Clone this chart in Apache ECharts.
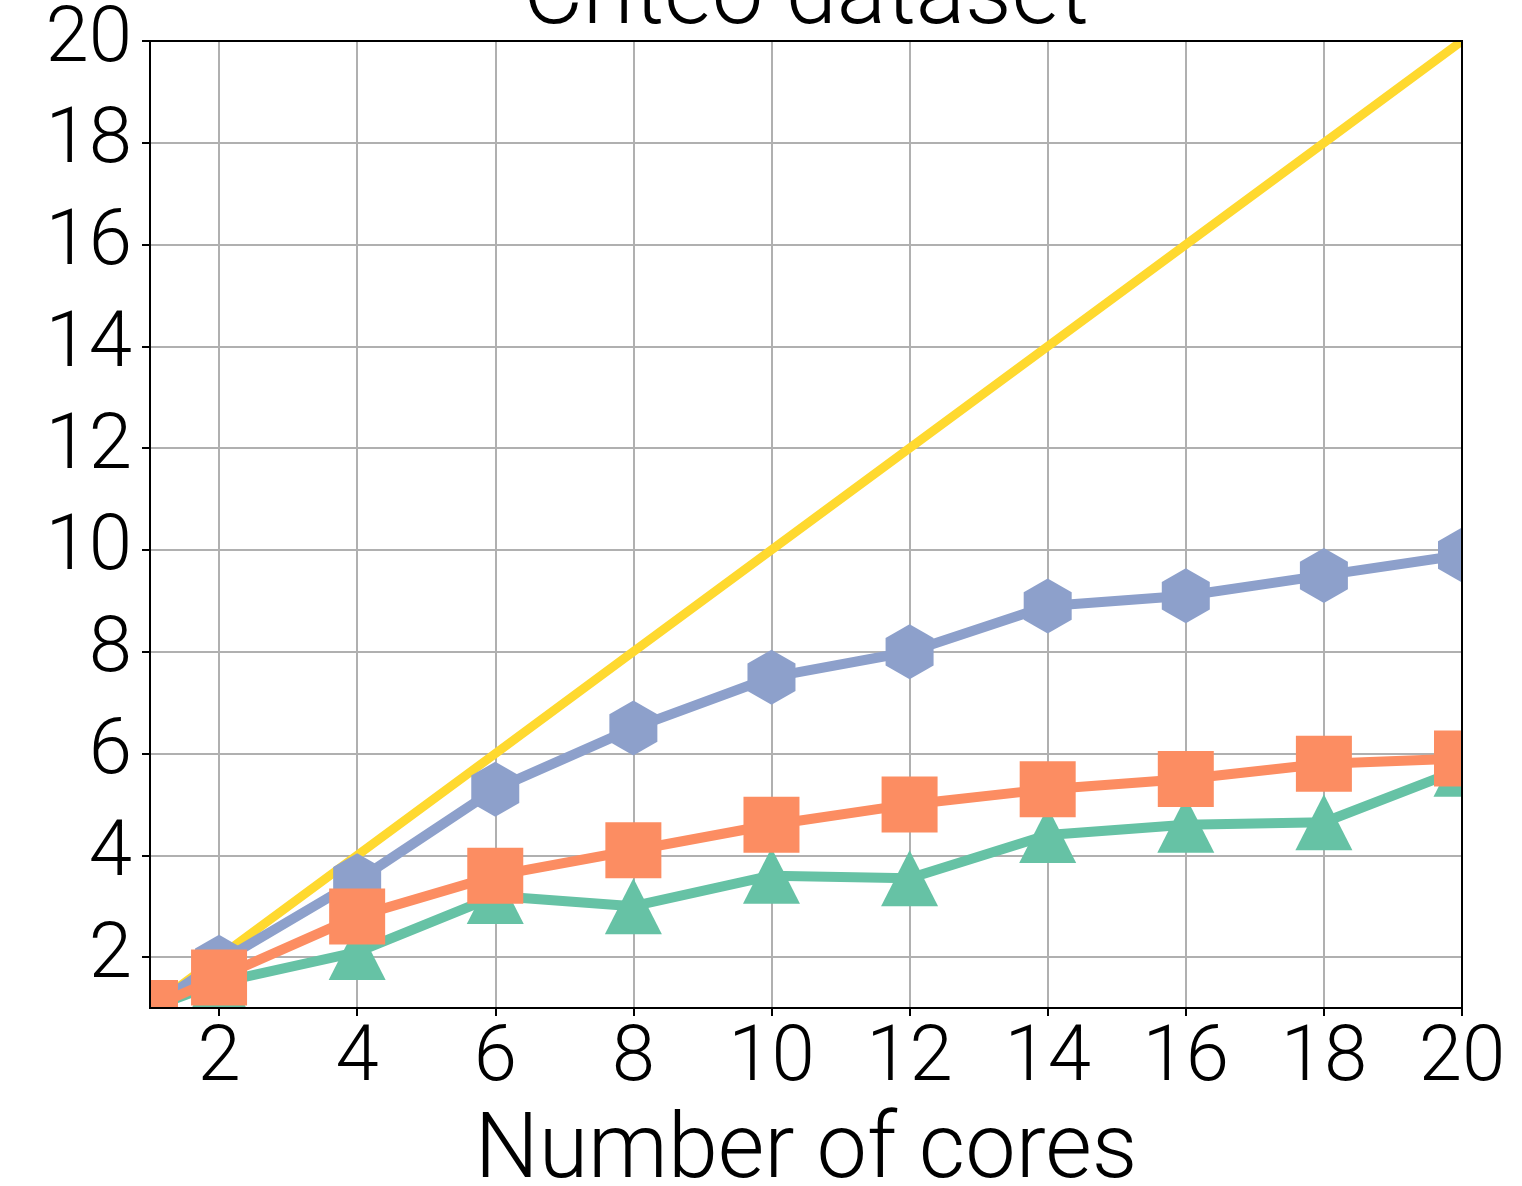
<!DOCTYPE html>
<html>
<head>
<meta charset="utf-8">
<script src="https://cdn.jsdelivr.net/npm/echarts@6/dist/echarts.min.js"></script>
<style>
html,body{margin:0;padding:0;background:#fff;}
#chart{width:1522px;height:1186px;}
</style>
</head>
<body>
<div id="chart"></div>
<script>
const cores = [1, 2, 4, 6, 8, 10, 12, 14, 16, 18, 20];
const idealSpeedup = [1, 2, 4, 6, 8, 10, 12, 14, 16, 18, 20];
const blueSpeedup = [1.0, 1.9, 3.5, 5.3, 6.5, 7.5, 8.0, 8.9, 9.1, 9.5, 9.9];
const orangeSpeedup = [1.0, 1.6, 2.8, 3.6, 4.1, 4.6, 5.0, 5.3, 5.5, 5.8, 5.9];
const greenSpeedup = [1.0, 1.5, 2.1, 3.2, 3.0, 3.6, 3.55, 4.4, 4.6, 4.65, 5.7];
const xTicks = [2, 4, 6, 8, 10, 12, 14, 16, 18, 20];
const yTicks = [2, 4, 6, 8, 10, 12, 14, 16, 18, 20];

const W = 1522, H = 1186;
const G = {left: 150, top: 41, right: 60, bottom: 178};
const gw = W - G.left - G.right, gh = H - G.top - G.bottom;
const FONT = 'Roboto';
const WEIGHT = 300;
const HEX = 'path://M0,-1L0.866,-0.5L0.866,0.5L0,1L-0.866,0.5L-0.866,-0.5Z';

function pairs(ys) { return cores.map((x, i) => [x, ys[i]]); }

const chart = echarts.init(document.getElementById('chart'), null, {renderer: 'canvas'});
const labelStyle = {fontSize: 78, fontFamily: FONT, fontWeight: WEIGHT, color: '#000'};

chart.setOption({
  animation: false,
  backgroundColor: '#fff',
  title: {
    text: 'Criteo dataset', left: G.left + gw / 2, top: -46, padding: 0, textAlign: 'center', z: 12,
    textStyle: {fontSize: 92, fontFamily: FONT, fontWeight: WEIGHT, color: '#000'}
  },
  grid: {left: G.left, top: G.top, right: G.right, bottom: G.bottom, containLabel: false, outerBoundsMode: 'none'},
  xAxis: [
    {type: 'value', min: 1, max: 20, position: 'bottom', z: 0,
     axisLine: {show: false}, axisTick: {show: false, customValues: xTicks},
     axisLabel: {show: false, customValues: xTicks},
     splitLine: {show: true, lineStyle: {color: '#b0b0b0', width: 2}}},
    {type: 'value', min: 1, max: 20, position: 'bottom', z: 10,
     axisLine: {show: false},
     axisTick: {show: true, customValues: xTicks, length: 8, inside: false, lineStyle: {color: '#000', width: 2}},
     axisLabel: Object.assign({customValues: xTicks, margin: 13}, labelStyle),
     splitLine: {show: false},
     name: 'Number of cores', nameLocation: 'middle', nameGap: 101,
     nameTextStyle: {fontSize: 90, fontFamily: FONT, fontWeight: WEIGHT, color: '#000'}}
  ],
  yAxis: [
    {type: 'value', min: 1, max: 20, position: 'left', z: 0,
     axisLine: {show: false}, axisTick: {show: false, customValues: yTicks},
     axisLabel: {show: false, customValues: yTicks},
     splitLine: {show: true, lineStyle: {color: '#b0b0b0', width: 2}}},
    {type: 'value', min: 1, max: 20, position: 'left', z: 10,
     axisLine: {show: false},
     axisTick: {show: true, customValues: yTicks, length: 8, inside: false, lineStyle: {color: '#000', width: 2}},
     axisLabel: Object.assign({customValues: yTicks, margin: 18}, labelStyle),
     splitLine: {show: false}}
  ],
  graphic: [
    {type: 'rect', z: 5, silent: true, shape: {x: 0, y: 0, width: G.left, height: H}, style: {fill: '#fff'}},
    {type: 'rect', z: 5, silent: true, shape: {x: W - G.right, y: 0, width: G.right, height: H}, style: {fill: '#fff'}},
    {type: 'rect', z: 5, silent: true, shape: {x: 0, y: 0, width: W, height: G.top}, style: {fill: '#fff'}},
    {type: 'rect', z: 5, silent: true, shape: {x: 0, y: H - G.bottom, width: W, height: G.bottom}, style: {fill: '#fff'}},
    {type: 'rect', z: 11, silent: true, shape: {x: G.left, y: G.top, width: gw, height: gh},
     style: {fill: 'none', stroke: '#000', lineWidth: 2}}
  ],
  series: [
    {name: 'Ideal', type: 'line', data: pairs(idealSpeedup), xAxisIndex: 0, yAxisIndex: 0, z: 2, clip: false,
     showSymbol: false, symbol: 'none', lineStyle: {color: '#ffd92f', width: 9}, itemStyle: {color: '#ffd92f'}},
    {name: 'Green', type: 'line', data: pairs(greenSpeedup), xAxisIndex: 0, yAxisIndex: 0, z: 2, clip: false,
     symbol: 'triangle', symbolSize: [57, 56], lineStyle: {color: '#66c2a5', width: 10}, itemStyle: {color: '#66c2a5'}},
    {name: 'Blue', type: 'line', data: pairs(blueSpeedup), xAxisIndex: 0, yAxisIndex: 0, z: 2, clip: false,
     symbol: HEX, symbolSize: [48, 55], lineStyle: {color: '#8da0cb', width: 10}, itemStyle: {color: '#8da0cb'}},
    {name: 'Orange', type: 'line', data: pairs(orangeSpeedup), xAxisIndex: 0, yAxisIndex: 0, z: 2, clip: false,
     symbol: 'rect', symbolSize: [56, 56], lineStyle: {color: '#fc8d62', width: 10}, itemStyle: {color: '#fc8d62'}}
  ]
});
</script>
</body>
</html>
